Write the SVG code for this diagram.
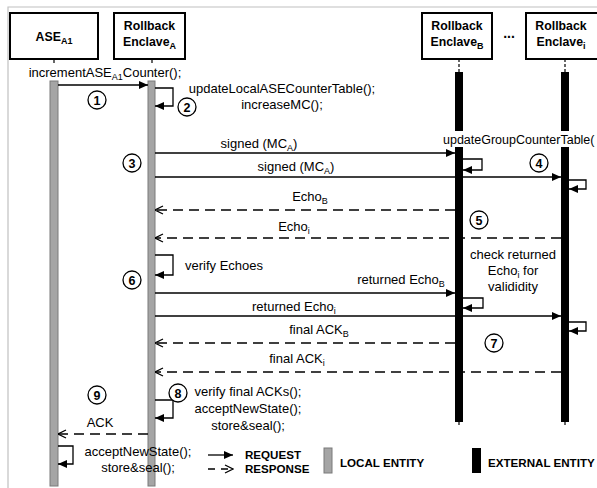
<svg xmlns="http://www.w3.org/2000/svg" width="597" height="488" viewBox="0 0 597 488">
<style>
text{font-family:"Liberation Sans",Arial,sans-serif;fill:#000}
.t{font-size:13px}
.b{font-size:12.3px;font-weight:bold}
.lg{font-size:11.6px;font-weight:bold}
.n{font-size:12.5px;font-weight:bold}
.s{font-size:9px}
.box{fill:#fff;stroke:#000;stroke-width:2}
.gbar{fill:#a5a5a5;stroke:#7a7a7a;stroke-width:1}
.kbar{fill:#000}
.msg{fill:none;stroke:#000;stroke-width:1.3}
.dash{stroke-dasharray:10 6}
.req{marker-end:url(#af)}
.rsp{marker-end:url(#ao)}
.circ{fill:#fff;stroke:#000;stroke-width:1.3}
.life{stroke:#000;stroke-width:1.2;stroke-dasharray:3 2}
.frame{stroke:#c0c0c0;stroke-width:1.2;fill:none}
</style>
<defs>
<marker id="af" viewBox="0 0 9 8" refX="9" refY="4" markerWidth="9" markerHeight="8" orient="auto" markerUnits="userSpaceOnUse"><path d="M0,0 L9,4 L0,8 z" fill="#000"/></marker>
<marker id="ao" viewBox="0 0 10 10" refX="9.5" refY="5" markerWidth="10" markerHeight="10" orient="auto" markerUnits="userSpaceOnUse"><path d="M1.5,1 L9.5,5 L1.5,9" fill="none" stroke="#000" stroke-width="1.3"/></marker>
</defs>
<rect width="597" height="488" fill="#fff"/>
<path class="frame" d="M8,488 V7 H597"/>

<g id="ase">
<rect class="box" x="10" y="13" width="88" height="46"/>
<text class="b" x="54" y="41" text-anchor="middle">ASE<tspan class="s" dy="3">A1</tspan></text>
<line x1="54" y1="59" x2="54" y2="63" stroke="#000" stroke-width="1.2"/>
<rect class="gbar" x="50" y="81" width="8" height="405"/>
</g>

<g id="enclaveA">
<rect class="box" x="114" y="13" width="71" height="46"/>
<text class="b" x="149.5" y="30" text-anchor="middle">Rollback</text>
<text class="b" x="149.5" y="46" text-anchor="middle">Enclave<tspan class="s" dy="3">A</tspan></text>
<line x1="152" y1="59" x2="152" y2="63" stroke="#000" stroke-width="1.2"/>
<rect class="gbar" x="148" y="81" width="7" height="405"/>
</g>

<g id="enclaveB">
<rect class="box" x="422" y="13" width="70" height="46"/>
<text class="b" x="457" y="30" text-anchor="middle">Rollback</text>
<text class="b" x="457" y="46" text-anchor="middle">Enclave<tspan class="s" dy="3">B</tspan></text>
<line class="life" x1="459" y1="59" x2="459" y2="72"/>
<rect class="kbar" x="455" y="72" width="8" height="350"/>
<line x1="459" y1="422" x2="459" y2="425" stroke="#000" stroke-width="1.2"/>
</g>

<text class="b" x="509" y="38" text-anchor="middle" style="font-size:14px">...</text>

<g id="enclaveI">
<rect class="box" x="526" y="13" width="76" height="46"/>
<text class="b" x="561" y="30" text-anchor="middle">Rollback</text>
<text class="b" x="561" y="46" text-anchor="middle">Enclave<tspan class="s" dy="3">i</tspan></text>
<line class="life" x1="565" y1="59" x2="565" y2="72"/>
<rect class="kbar" x="561" y="72" width="8" height="350"/>
<line x1="565" y1="422" x2="565" y2="425" stroke="#000" stroke-width="1.2"/>
</g>

<g id="connectors">
<path class="msg req" d="M58,85 H148"/>
<path class="msg req" d="M155,88 H173 V106 H155"/>
<path class="msg req" d="M155,153 H455"/>
<path class="msg req" d="M155,177 H561"/>
<path class="msg req" d="M463,159 H482 V170 H463"/>
<path class="msg req" d="M569,180 H586 V189 H569"/>
<path class="msg dash rsp" d="M455,210 H155"/>
<path class="msg dash rsp" d="M561,238 H155"/>
<path class="msg req" d="M155,255 H173 V275 H155"/>
<path class="msg req" d="M155,293 H455"/>
<path class="msg req" d="M155,316 H561"/>
<path class="msg req" d="M463,298 H483 V308 H463"/>
<path class="msg req" d="M569,322 H586 V331 H569"/>
<path class="msg dash rsp" d="M455,343 H155"/>
<path class="msg dash rsp" d="M561,372 H155"/>
<path class="msg req" d="M155,400 H173 V418 H155"/>
<path class="msg dash rsp" d="M148,434 H58"/>
<path class="msg req" d="M58,446 H73 V464 H58"/>
</g>

<g id="labels">
<rect x="22" y="66" width="166" height="14" fill="#fff"/>
<text class="t" x="105" y="77" text-anchor="middle">incrementASE<tspan class="s" dy="3">A1</tspan><tspan dy="-3">Counter();</tspan></text>
<text class="t" x="282" y="93" text-anchor="middle">updateLocalASECounterTable();</text>
<text class="t" x="282" y="109" text-anchor="middle">increaseMC();</text>
<text class="t" x="259" y="148" text-anchor="middle">signed (MC<tspan class="s" dy="3">A</tspan><tspan dy="-3">)</tspan></text>
<text class="t" x="296" y="171" text-anchor="middle">signed (MC<tspan class="s" dy="3">A</tspan><tspan dy="-3">)</tspan></text>
<rect x="440" y="131" width="157" height="16" fill="#fff"/>
<text class="t" x="443" y="144" style="font-size:12.5px">updateGroupCounterTable(</text>
<text class="t" x="310" y="201" text-anchor="middle">Echo<tspan class="s" dy="3">B</tspan></text>
<text class="t" x="294" y="231" text-anchor="middle">Echo<tspan class="s" dy="3">i</tspan></text>
<text class="t" x="513" y="259" text-anchor="middle">check returned</text>
<text class="t" x="513" y="275" text-anchor="middle">Echo<tspan class="s" dy="3">i</tspan><tspan dy="-3"> for</tspan></text>
<text class="t" x="513" y="291" text-anchor="middle">valididity</text>
<text class="t" x="185" y="270">verify Echoes</text>
<text class="t" x="401" y="284" text-anchor="middle">returned Echo<tspan class="s" dy="3">B</tspan></text>
<text class="t" x="252" y="311">returned Echo<tspan class="s" dy="3">i</tspan></text>
<text class="t" x="319" y="334" text-anchor="middle">final ACK<tspan class="s" dy="3">B</tspan></text>
<text class="t" x="297" y="363" text-anchor="middle">final ACK<tspan class="s" dy="3">i</tspan></text>
<text class="t" x="248" y="396" text-anchor="middle">verify final ACKs();</text>
<text class="t" x="248" y="413" text-anchor="middle">acceptNewState();</text>
<text class="t" x="248" y="430" text-anchor="middle">store&amp;seal();</text>
<text class="t" x="100" y="427" text-anchor="middle">ACK</text>
<text class="t" x="138" y="456" text-anchor="middle">acceptNewState();</text>
<text class="t" x="138" y="472" text-anchor="middle">store&amp;seal();</text>
</g>

<g id="steps">
<circle class="circ" cx="97" cy="100" r="9"/><text class="n" x="97" y="104.5" text-anchor="middle">1</text>
<circle class="circ" cx="187" cy="107" r="9"/><text class="n" x="187" y="111.5" text-anchor="middle">2</text>
<circle class="circ" cx="132" cy="163" r="9"/><text class="n" x="132" y="167.5" text-anchor="middle">3</text>
<circle class="circ" cx="539" cy="163" r="9"/><text class="n" x="539" y="167.5" text-anchor="middle">4</text>
<circle class="circ" cx="479" cy="220" r="9"/><text class="n" x="479" y="224.5" text-anchor="middle">5</text>
<circle class="circ" cx="132" cy="280" r="9"/><text class="n" x="132" y="284.5" text-anchor="middle">6</text>
<circle class="circ" cx="494" cy="343" r="9"/><text class="n" x="494" y="347.5" text-anchor="middle">7</text>
<circle class="circ" cx="178" cy="393" r="9"/><text class="n" x="178" y="397.5" text-anchor="middle">8</text>
<circle class="circ" cx="97" cy="395" r="9"/><text class="n" x="97" y="399.5" text-anchor="middle">9</text>
</g>

<g id="legend">
<path class="msg req" d="M208,455 H233"/>
<path class="msg rsp" style="stroke-dasharray:7 6" d="M208,469 H233"/>
<text class="lg" x="245" y="459">REQUEST</text>
<text class="lg" x="245" y="473">RESPONSE</text>
<rect class="gbar" x="324" y="448" width="8" height="25"/>
<text class="lg" x="340" y="467">LOCAL ENTITY</text>
<rect class="kbar" x="472" y="448" width="9" height="25"/>
<text class="lg" x="488" y="467">EXTERNAL ENTITY</text>
</g>
</svg>
